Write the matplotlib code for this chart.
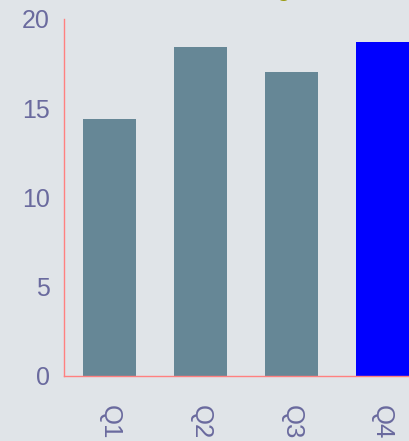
import matplotlib
matplotlib.use("Agg")
import matplotlib.pyplot as plt

quarters = ["Q1", "Q2", "Q3", "Q4"]
values = [14.4, 18.4, 17.0, 18.7]
bar_colors = ["#668796", "#668796", "#668796", "#0000ff"]

bg = "#e0e4e8"
label_color = "#6a6a9e"

plt.rcParams['font.family'] = ['Liberation Sans', 'DejaVu Sans']

fig = plt.figure(figsize=(4.10, 4.41), dpi=100, facecolor=bg)
ax = fig.add_axes([0.156, 0.1474, 0.887, 0.810])
ax.set_facecolor(bg)

x = range(len(quarters))
ax.bar(x, values, width=0.58, color=bar_colors)

ax.set_xlim(-0.5, 3.5)
ax.set_ylim(0, 20)
ax.set_yticks([0, 5, 10, 15, 20])
ax.set_xticks(list(x))
ax.set_xticklabels(quarters, rotation=-90)

ax.tick_params(length=0, labelcolor=label_color)
ax.tick_params(axis='y', pad=10, labelsize=18)
ax.tick_params(axis='x', pad=21, labelsize=18.5)

for s in ["top", "right"]:
    ax.spines[s].set_visible(False)
for s in ["left", "bottom"]:
    ax.spines[s].set_color("#ff8080")
    ax.spines[s].set_linewidth(1)

# descender of a title that sits above the visible area
fig.text(0.692, 1.008, "g", color="#9a9a10", fontsize=18, ha="center", va="baseline")

fig.savefig("out.png", dpi=100, facecolor=bg)
